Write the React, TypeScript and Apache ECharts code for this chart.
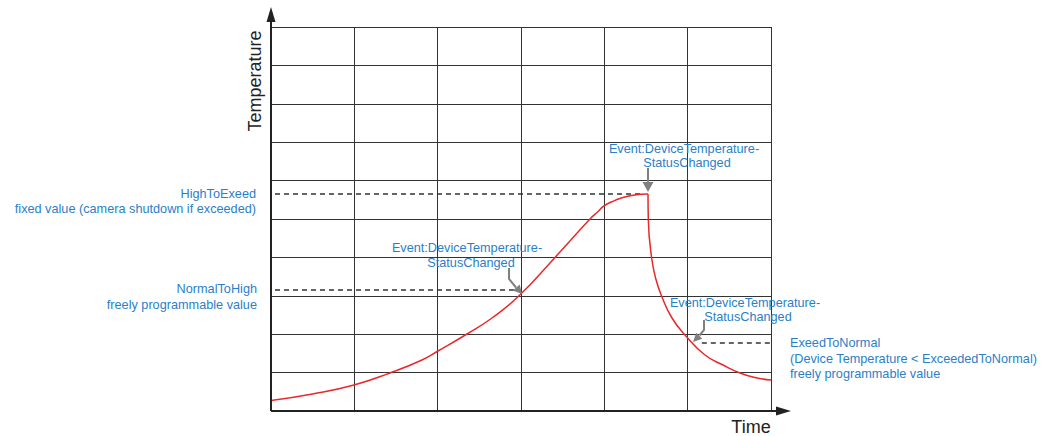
import React, { useEffect, useRef } from "react";
import * as echarts from "echarts";

// Time axis (grid columns) and temperature axis (grid rows)
const timeTicks = [0, 1, 2, 3, 4, 5, 6];
const tempTicks = [0, 1, 2, 3, 4, 5, 6, 7, 8, 9, 10];

// Temperature curve: heating phase
const riseX = [0, 0.498, 0.996, 1.428, 1.812, 2.004, 2.352, 2.652, 2.976, 3.408, 3.828, 3.912, 3.996, 4.092, 4.188, 4.344, 4.524];
const riseY = [0.273, 0.443, 0.677, 0.99, 1.328, 1.5625, 2.005, 2.422, 3.0, 4.0, 5.0, 5.169, 5.339, 5.448, 5.534, 5.62, 5.651];

// Temperature curve: after camera shutdown (cooling)
const fallX = [4.524, 4.528, 4.568, 4.62, 4.692, 4.812, 4.968, 5.208, 5.424, 5.628, 5.808, 6.0];
const fallY = [5.651, 4.974, 3.984, 3.424, 2.969, 2.422, 1.979, 1.458, 1.198, 0.99, 0.872, 0.807];

// Threshold levels and the extent of their dashed markers along time
const thresholdNames = ["HighToExeed", "NormalToHigh", "ExeedToNormal"];
const thresholdValues = [5.65, 3.15, 1.77];
const thresholdStart = [-0.168, -0.168, 5.17];
const thresholdEnd = [4.43, 2.94, 6.2];

const FONT = '"Liberation Sans", Arial, Helvetica, sans-serif';
const BLUE = "#2a7fc6";
const GRAY = "#808080";
const FS = 12.7;

export default function App() {
  const ref = useRef<HTMLDivElement>(null);

  useEffect(() => {
    document.body.style.margin = "0";
    if (!ref.current) return;
    const chart = echarts.init(ref.current, undefined, { renderer: "svg" });

    const thresholdSeries = thresholdNames.map((name, i) => ({
      name,
      type: "line",
      data: [
        [thresholdStart[i], thresholdValues[i]],
        [thresholdEnd[i], thresholdValues[i]],
      ],
      symbol: "none",
      clip: false,
      silent: true,
      z: 3,
      lineStyle: { color: "#333", width: 1.5, type: [5, 4] },
    }));

    const txt = (
      text: string,
      x: number,
      y: number,
      align: string,
      size = FS,
      color = BLUE,
      rotation = 0
    ) => ({
      type: "text",
      x,
      y,
      rotation,
      z: 100,
      style: {
        text,
        fill: color,
        font: `${size}px ${FONT}`,
        textAlign: align,
        textVerticalAlign: "middle",
      },
    });

    const option: any = {
      animation: false,
      grid: { left: 271, top: 27, right: 282, bottom: 25 },
      xAxis: {
        type: "value",
        min: timeTicks[0],
        max: timeTicks[timeTicks.length - 1],
        interval: 1,
        axisLine: { show: false },
        axisTick: { show: false },
        axisLabel: { show: false },
        splitLine: { show: true, lineStyle: { color: "#333", width: 1 } },
      },
      yAxis: {
        type: "value",
        min: tempTicks[0],
        max: tempTicks[tempTicks.length - 1],
        interval: 1,
        axisLine: { show: false },
        axisTick: { show: false },
        axisLabel: { show: false },
        splitLine: { show: true, lineStyle: { color: "#333", width: 1 } },
      },
      series: [
        {
          name: "Temperature rise",
          type: "line",
          data: riseX.map((x, i) => [x, riseY[i]]),
          smooth: 0.5,
          symbol: "none",
          z: 4,
          lineStyle: { color: "#e8282b", width: 1.5 },
        },
        {
          name: "Temperature fall",
          type: "line",
          data: fallX.map((x, i) => [x, fallY[i]]),
          smooth: 0.5,
          symbol: "none",
          z: 4,
          lineStyle: { color: "#e8282b", width: 1.5 },
        },
        ...thresholdSeries,
      ],
      graphic: [
        // axes with arrows
        { type: "line", z: 90, shape: { x1: 271, y1: 411, x2: 780, y2: 411 }, style: { stroke: "#222", lineWidth: 2 } },
        { type: "polygon", z: 90, shape: { points: [[776, 406.5], [776, 415.5], [791, 411]] }, style: { fill: "#222" } },
        { type: "line", z: 90, shape: { x1: 271, y1: 411, x2: 271, y2: 20 }, style: { stroke: "#222", lineWidth: 2 } },
        { type: "polygon", z: 90, shape: { points: [[266.5, 22], [275.5, 22], [271, 7]] }, style: { fill: "#222" } },
        // axis titles
        txt("Temperature", 255, 81, "center", 18, "#222", Math.PI / 2),
        txt("Time", 751, 427, "center", 18, "#222"),
        // threshold labels
        txt("HighToExeed", 256, 194, "right"),
        txt("fixed value (camera shutdown if exceeded)", 256, 209, "right"),
        txt("NormalToHigh", 257, 289, "right"),
        txt("freely programmable value", 257, 305, "right"),
        txt("ExeedToNormal", 790, 343, "left"),
        txt("(Device Temperature < ExceededToNormal)", 790, 359, "left"),
        txt("freely programmable value", 790, 374, "left"),
        // event labels
        txt("Event:DeviceTemperature-", 467, 248, "center"),
        txt("StatusChanged", 471, 263, "center"),
        txt("Event:DeviceTemperature-", 684, 149, "center"),
        txt("StatusChanged", 687, 163, "center"),
        txt("Event:DeviceTemperature-", 745, 303, "center"),
        txt("StatusChanged", 748, 317, "center"),
        // event arrows
        { type: "polyline", z: 95, shape: { points: [[509, 268], [509, 279], [516, 287.5]] }, style: { stroke: GRAY, lineWidth: 2, fill: "none" } },
        { type: "polygon", z: 95, shape: { points: [[512.8, 290.4], [519.7, 284.4], [522, 294]] }, style: { fill: GRAY } },
        { type: "line", z: 95, shape: { x1: 648, y1: 168, x2: 648, y2: 184 }, style: { stroke: GRAY, lineWidth: 2 } },
        { type: "polygon", z: 95, shape: { points: [[642.5, 182], [653.5, 182], [648, 192]] }, style: { fill: GRAY } },
        { type: "polyline", z: 95, shape: { points: [[704, 320], [704, 330], [699.5, 335.5]] }, style: { stroke: GRAY, lineWidth: 2, fill: "none" } },
        { type: "polygon", z: 95, shape: { points: [[702.3, 338.8], [696.2, 332.7], [693, 342]] }, style: { fill: GRAY } },
      ],
    };

    chart.setOption(option);
    return () => chart.dispose();
  }, []);

  return (
    <div
      ref={ref}
      style={{ position: "absolute", left: 0, top: 0, width: 1053, height: 436, background: "#fff" }}
    />
  );
}
